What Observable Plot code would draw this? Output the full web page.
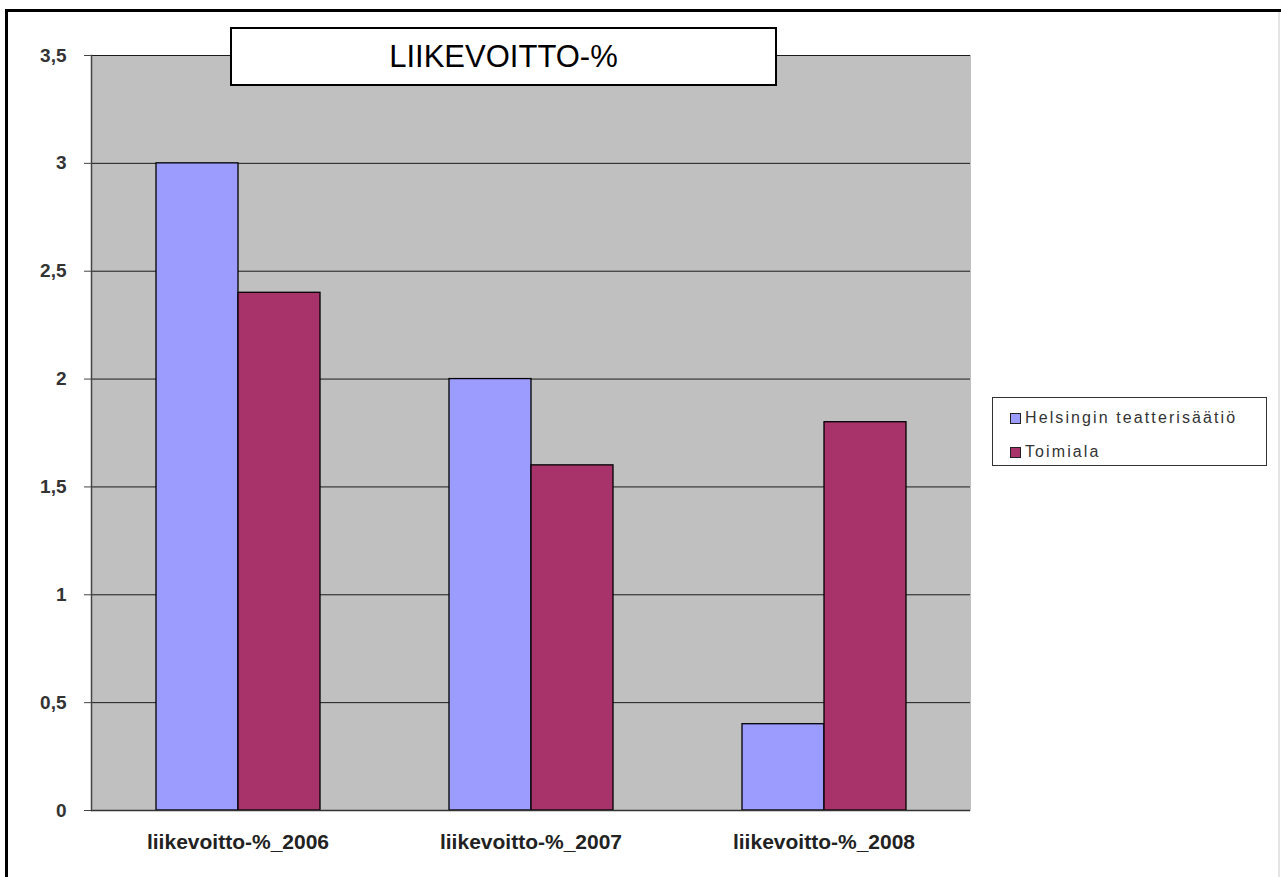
<!DOCTYPE html>
<html>
<head>
<meta charset="utf-8">
<script src="https://cdn.jsdelivr.net/npm/d3@7"></script>
<script src="https://cdn.jsdelivr.net/npm/@observablehq/plot@0.6"></script>
<style>
  html, body { margin: 0; padding: 0; background: #fff; overflow: hidden; }
  #wrap { position: relative; width: 1281px; height: 877px; font-family: "Liberation Sans", Arial, sans-serif; }
  #border { position: absolute; left: 5px; top: 9px; width: 1300px; height: 900px; border-left: 3px solid #000; border-top: 3px solid #000; box-sizing: border-box; }
  #rborder { position: absolute; left: 1278px; top: 12px; width: 2px; height: 865px; background: #e4e4e4; }
  #chart { position: absolute; left: 0; top: 0; }
  #title { position: absolute; left: 230px; top: 27px; width: 547px; height: 59px; box-sizing: border-box; border: 2px solid #000; background: #fff; display: flex; align-items: center; justify-content: center; }
  #title span { font-size: 31px; color: #000; white-space: nowrap; }
  #legend { position: absolute; left: 992px; top: 397px; width: 275px; height: 69px; box-sizing: border-box; border: 1px solid #333; background: #fff; }
  .item { position: absolute; left: 17px; height: 20px; display: flex; align-items: center; font-size: 16px; color: #333; letter-spacing: 2.1px; white-space: nowrap; }
  .sw { width: 9px; height: 9px; border: 1.5px solid #222; margin-right: 4px; }
</style>
</head>
<body>
<div id="wrap">
  <div id="border"></div>
  <div id="rborder"></div>
  <div id="chart"></div>
  <div id="title"><span id="titleText"></span></div>
  <div id="legend"></div>
</div>
<script>
const titleText = "LIIKEVOITTO-%";
const categories = ["liikevoitto-%_2006", "liikevoitto-%_2007", "liikevoitto-%_2008"];
const seriesNames = ["Helsingin teatterisäätiö", "Toimiala"];
const helsinkiValues = [3, 2, 0.4];
const toimialaValues = [2.4, 1.6, 1.8];
const seriesColors = ["#9c9cff", "#a8336a"];
const yTicks = [0, 0.5, 1, 1.5, 2, 2.5, 3, 3.5];

const rows = [];
categories.forEach((c, i) => {
  rows.push({category: c, series: seriesNames[0], value: helsinkiValues[i]});
  rows.push({category: c, series: seriesNames[1], value: toimialaValues[i]});
});

const fmt = d => String(d).replace(".", ",");

const chart = Plot.plot({
  width: 1281,
  height: 877,
  marginLeft: 90,
  marginRight: 311,
  marginTop: 55,
  marginBottom: 67,
  style: {fontFamily: "'Liberation Sans', Arial, sans-serif", background: "transparent"},
  fx: {domain: categories, padding: 0, label: null},
  x: {domain: seriesNames, paddingInner: 0, paddingOuter: 0.776, axis: null},
  y: {domain: [0, 3.5], ticks: yTicks, label: null},
  color: {domain: seriesNames, range: seriesColors},
  marks: [
    Plot.frame({fill: "#c0c0c0", stroke: "#c0c0c0", strokeWidth: 1}),
    Plot.gridY(yTicks, {stroke: "#1a1a1a", strokeOpacity: 1, strokeWidth: 1}),
    Plot.barY(rows, {fx: "category", x: "series", y: "value", fill: "series", stroke: "#000", strokeWidth: 1.3}),
    Plot.ruleY([0], {stroke: "#333", strokeWidth: 1.5}),
    Plot.axisY(yTicks, {tickSize: 7, tickPadding: 18, tickFormat: fmt, fontSize: 19, fontWeight: "bold", fill: "#333", stroke: "#444", label: null}),
    Plot.axisFx({anchor: "bottom", tickSize: 0, tickPadding: 24, fontSize: 21, fontWeight: "bold", fill: "#222", label: null}),
    Plot.frame({anchor: "left", stroke: "#444", strokeWidth: 1.5, facetAnchor: "left"})
  ]
});
document.getElementById("chart").appendChild(chart);

document.getElementById("titleText").textContent = titleText;
const legend = document.getElementById("legend");
seriesNames.forEach((name, i) => {
  const item = document.createElement("div");
  item.className = "item";
  item.style.top = (i === 0 ? 10 : 44) + "px";
  const sw = document.createElement("div");
  sw.className = "sw";
  sw.style.background = seriesColors[i];
  const t = document.createElement("span");
  t.textContent = name;
  item.appendChild(sw);
  item.appendChild(t);
  legend.appendChild(item);
});
</script>
</body>
</html>
